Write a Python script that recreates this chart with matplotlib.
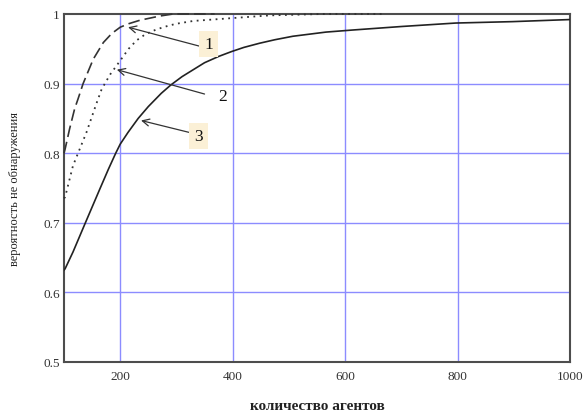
import matplotlib
matplotlib.use("Agg")
import matplotlib.pyplot as plt

# Curve 1 (dashed)
x1 = [100, 102, 110, 119, 125, 134, 152, 170, 185, 200, 215, 235, 270, 294, 330, 368]
y1 = [0.800, 0.806, 0.835, 0.864, 0.878, 0.900, 0.935, 0.959, 0.972, 0.981, 0.986, 0.991, 0.997, 1.0, 1.0, 1.0]
# Curve 2 (dotted)
x2 = [100, 102, 116, 128, 140, 152, 158, 167, 182, 200, 215, 229, 245, 265, 285, 300, 330, 398, 466, 560, 670]
y2 = [0.735, 0.737, 0.782, 0.806, 0.830, 0.858, 0.872, 0.892, 0.913, 0.933, 0.950, 0.962, 0.971, 0.978, 0.983, 0.986, 0.990, 0.994, 0.998, 1.0, 1.0]
# Curve 3 (solid)
x3 = [100, 102, 116, 137, 164, 179, 192, 200, 214, 232, 250, 273, 290, 310, 350, 375, 398,
      420, 448, 475, 507, 566, 614, 700, 797, 897, 1000]
y3 = [0.632, 0.634, 0.658, 0.698, 0.749, 0.777, 0.800, 0.813, 0.830, 0.850, 0.867, 0.886, 0.898,
      0.910, 0.930, 0.939, 0.946, 0.952, 0.958, 0.963, 0.968, 0.974, 0.977, 0.982, 0.987, 0.989, 0.992]

xticks = [200, 400, 600, 800, 1000]
yticks = [0.5, 0.6, 0.7, 0.8, 0.9, 1.0]
ytick_labels = ["0.5", "0.6", "0.7", "0.8", "0.9", "1"]

labels = ["1", "2", "3"]
label_pos = [(357, 0.957), (382, 0.882), (340, 0.825)]
arrow_tails = [(340, 0.954), (350, 0.885), (322, 0.830)]
arrow_tips = [(214, 0.981), (194, 0.920), (237, 0.847)]
label_boxed = [True, False, True]

plt.rcParams['font.family'] = ['Liberation Serif', 'DejaVu Serif']

fig = plt.figure(figsize=(5.86, 4.14), dpi=100)
ax = fig.add_axes([0.1092, 0.1232, 0.8635, 0.8406])

grid_c = '#8c8cff'
for xv in xticks[:-1]:
    ax.axvline(xv, color=grid_c, lw=1.0, zorder=1)
for yv in yticks[1:-1]:
    ax.axhline(yv, color=grid_c, lw=1.0, zorder=1)

ax.plot(x1, y1, color='#333333', lw=1.2, dashes=(7, 3), zorder=3, clip_on=False)
ax.plot(x2, y2, color='#333333', lw=1.3, linestyle=(0, (1, 2.5)), zorder=3, clip_on=False)
ax.plot(x3, y3, color='#222222', lw=1.2, zorder=3)

ax.set_xlim(100, 1000)
ax.set_ylim(0.5, 1.0)
ax.set_xticks(xticks)
ax.set_yticks(yticks)
ax.set_yticklabels(ytick_labels)
ax.tick_params(axis='both', length=0, labelsize=9.5, colors='#333333', pad=3)
ax.tick_params(axis='x', pad=6)
for s in ax.spines.values():
    s.set_color('#4d4d4d')
    s.set_linewidth(1.5)

for lab, (lx, ly), tail, tip, boxed in zip(labels, label_pos, arrow_tails, arrow_tips, label_boxed):
    ax.annotate('', xy=tip, xycoords='data', xytext=tail, textcoords='data',
                arrowprops=dict(arrowstyle='->,head_length=0.5,head_width=0.25',
                                color='#333333', lw=0.9, shrinkA=0, shrinkB=0),
                zorder=4)
    bbox = dict(boxstyle='square,pad=0.3', fc='#fbf0d6', ec='none') if boxed else None
    ax.text(lx, ly, lab, fontsize=12.5, color='#111111', ha='center', va='center',
            bbox=bbox, zorder=5)

ax.set_xlabel('количество агентов', fontsize=11, fontweight='bold', labelpad=12, color='#222222')
ax.set_ylabel('вероятность не обнаружения', fontsize=9, labelpad=16, color='#222222')

fig.savefig('out.png', dpi=100)
